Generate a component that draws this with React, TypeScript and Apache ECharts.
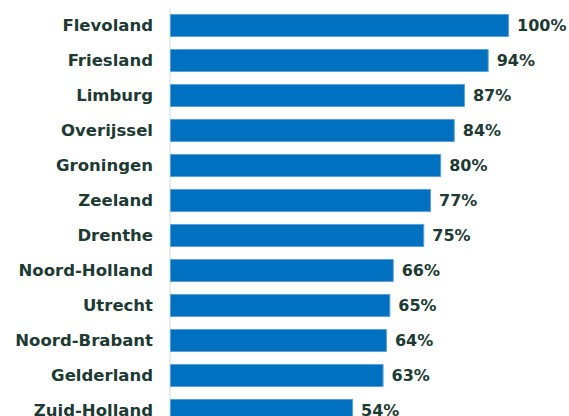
import React, { useEffect, useRef } from "react";
import * as echarts from "echarts";

const categories = [
  "Flevoland",
  "Friesland",
  "Limburg",
  "Overijssel",
  "Groningen",
  "Zeeland",
  "Drenthe",
  "Noord-Holland",
  "Utrecht",
  "Noord-Brabant",
  "Gelderland",
  "Zuid-Holland",
];
const values = [100, 94, 87, 84, 80, 77, 75, 66, 65, 64, 63, 54];

const TEXT = "#1d3a33";
const FONT = "'DejaVu Sans', sans-serif";

export default function App() {
  const ref = useRef<HTMLDivElement>(null);
  useEffect(() => {
    if (!ref.current) return;
    const chart = echarts.init(ref.current, undefined, { renderer: "svg" });
    chart.setOption({
      animation: false,
      grid: { left: 170, right: 60, top: 8, height: 420, containLabel: false },
      xAxis: {
        type: "value",
        min: 0,
        max: 100,
        show: false,
      },
      yAxis: {
        type: "category",
        data: categories,
        inverse: true,
        offset: 7,
        axisLine: { show: true, lineStyle: { color: "#e6efed", width: 2 } },
        axisTick: { show: false },
        axisLabel: {
          color: TEXT,
          fontFamily: FONT,
          fontWeight: "bold",
          fontSize: 16.5,
          margin: 10,
        },
      },
      series: [
        {
          type: "bar",
          data: values,
          barCategoryGap: "34%",
          itemStyle: { color: "#0070c0", borderColor: "#5aa0d8", borderWidth: 1 },
          label: {
            show: true,
            position: "right",
            distance: 8,
            formatter: "{c}%",
            color: TEXT,
            fontFamily: FONT,
            fontWeight: "bold",
            fontSize: 16,
          },
        },
      ],
    });
    return () => chart.dispose();
  }, []);
  return (
    <div
      ref={ref}
      style={{ position: "absolute", left: 0, top: 0, width: 569, height: 440 }}
    />
  );
}
